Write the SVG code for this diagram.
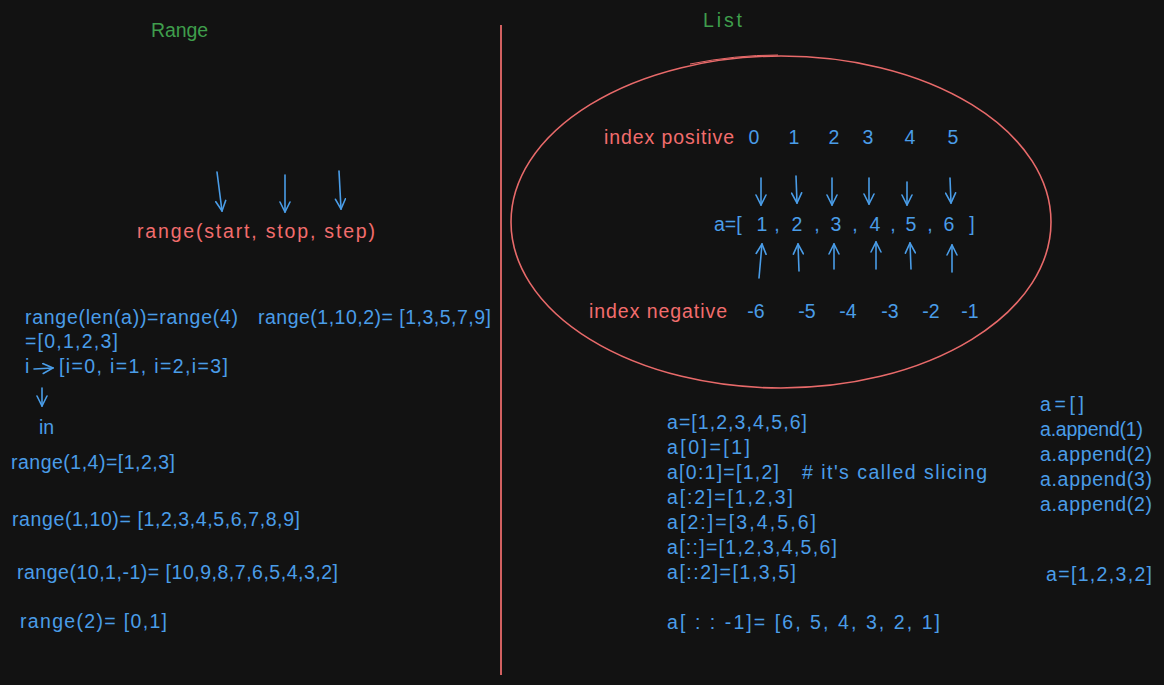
<svg xmlns="http://www.w3.org/2000/svg" width="1164" height="685" viewBox="0 0 1164 685">
<style>
text{font-family:"Liberation Sans","DejaVu Sans",sans-serif;font-size:19.5px;}
.b{fill:#4a9de8;}
.r{fill:#f26d6d;}
.g{fill:#3f9e4c;}
.c{text-anchor:middle;}
.arr{stroke:#4a9de8;stroke-width:1.6;fill:none;stroke-linecap:round;stroke-linejoin:round;}
</style>
<defs>
<marker id="ah" viewBox="0 0 12 12" refX="11" refY="6" markerWidth="12" markerHeight="12" markerUnits="userSpaceOnUse" orient="auto">
<path d="M1,1 L11,6 L1,11" fill="none" stroke="#4a9de8" stroke-width="1.6" stroke-linecap="round"/>
</marker>
</defs>
<rect width="1164" height="685" fill="#121212"/>

<g id="divider"><line x1="501" y1="25" x2="501" y2="675" stroke="#e86a6a" stroke-width="1.8"/></g>

<g id="title-range"><text class="g" x="151" y="37" textLength="57">Range</text></g>
<g id="title-list"><text class="g" x="703" y="27" textLength="39">List</text></g>

<g id="range-signature"><text class="r" x="137" y="238" textLength="238">range(start, stop, step)</text></g>

<g id="range-examples">
<text class="b" x="25" y="324" textLength="213">range(len(a))=range(4)</text>
<text class="b" x="258" y="324" textLength="233">range(1,10,2)= [1,3,5,7,9]</text>
<text class="b" x="25" y="348" textLength="93">=[0,1,2,3]</text>
<text class="b" x="25" y="373">i</text>
<text class="b" x="59" y="373" textLength="169">[i=0, i=1, i=2,i=3]</text>
<text class="b" x="39" y="434">in</text>
<text class="b" x="11" y="469" textLength="164">range(1,4)=[1,2,3]</text>
<text class="b" x="12" y="526" textLength="288">range(1,10)= [1,2,3,4,5,6,7,8,9]</text>
<text class="b" x="17" y="579" textLength="321">range(10,1,-1)= [10,9,8,7,6,5,4,3,2]</text>
<text class="b" x="20" y="628" textLength="147">range(2)= [0,1]</text>
</g>

<g id="list-ellipse"><ellipse cx="781" cy="222" rx="270" ry="166" fill="none" stroke="#e86a6a" stroke-width="1.6"/>
<path d="M690,64 Q735,55 778,55" fill="none" stroke="#e86a6a" stroke-width="1"/></g>

<g id="index-positive">
<text class="r" x="604" y="144" textLength="130">index positive</text>
<text class="b c" x="754" y="144">0</text>
<text class="b c" x="794" y="144">1</text>
<text class="b c" x="834" y="144">2</text>
<text class="b c" x="868" y="144">3</text>
<text class="b c" x="910" y="144">4</text>
<text class="b c" x="953" y="144">5</text>
</g>

<g id="list-a">
<text class="b" x="714" y="231">a=[</text>
<text class="b c" x="762" y="231">1</text>
<text class="b c" x="777" y="231">,</text>
<text class="b c" x="797" y="231">2</text>
<text class="b c" x="817" y="231">,</text>
<text class="b c" x="836" y="231">3</text>
<text class="b c" x="855" y="231">,</text>
<text class="b c" x="875" y="231">4</text>
<text class="b c" x="893" y="231">,</text>
<text class="b c" x="911" y="231">5</text>
<text class="b c" x="930" y="231">,</text>
<text class="b c" x="949" y="231">6</text>
<text class="b c" x="972" y="231">]</text>
</g>

<g id="index-negative">
<text class="r" x="589" y="318" textLength="138">index negative</text>
<text class="b c" x="756" y="318">-6</text>
<text class="b c" x="807" y="318">-5</text>
<text class="b c" x="848" y="318">-4</text>
<text class="b c" x="890" y="318">-3</text>
<text class="b c" x="931" y="318">-2</text>
<text class="b c" x="970" y="318">-1</text>
</g>

<g id="slicing">
<text class="b" x="667" y="429" textLength="140">a=[1,2,3,4,5,6]</text>
<text class="b" x="667" y="454" textLength="83">a[0]=[1]</text>
<text class="b" x="667" y="479" textLength="112">a[0:1]=[1,2]</text>
<text class="b" x="802" y="479" textLength="185"># it's called slicing</text>
<text class="b" x="667" y="504" textLength="126">a[:2]=[1,2,3]</text>
<text class="b" x="667" y="529" textLength="149">a[2:]=[3,4,5,6]</text>
<text class="b" x="667" y="554" textLength="170">a[::]=[1,2,3,4,5,6]</text>
<text class="b" x="667" y="579" textLength="129">a[::2]=[1,3,5]</text>
<text class="b" x="667" y="629" textLength="273">a[ : : -1]= [6, 5, 4, 3, 2, 1]</text>
</g>

<g id="append">
<text class="b" x="1040" y="411" textLength="44">a=[]</text>
<text class="b" x="1040" y="436" textLength="103">a.append(1)</text>
<text class="b" x="1040" y="461" textLength="112">a.append(2)</text>
<text class="b" x="1040" y="486" textLength="112">a.append(3)</text>
<text class="b" x="1040" y="511" textLength="112">a.append(2)</text>
<text class="b" x="1046" y="581" textLength="106">a=[1,2,3,2]</text>
</g>

<g id="connectors">
<line class="arr" x1="217" y1="172" x2="222" y2="211" marker-end="url(#ah)"/>
<line class="arr" x1="285" y1="175" x2="285" y2="212" marker-end="url(#ah)"/>
<line class="arr" x1="339" y1="171" x2="341" y2="209" marker-end="url(#ah)"/>
<line class="arr" x1="34" y1="369" x2="53" y2="368" marker-end="url(#ah)"/>
<line class="arr" x1="42" y1="388" x2="42" y2="406" marker-end="url(#ah)"/>
<line class="arr" x1="761" y1="178" x2="761" y2="205" marker-end="url(#ah)"/>
<line class="arr" x1="796" y1="176" x2="797" y2="203" marker-end="url(#ah)"/>
<line class="arr" x1="832" y1="178" x2="832" y2="205" marker-end="url(#ah)"/>
<line class="arr" x1="869" y1="178" x2="869" y2="204" marker-end="url(#ah)"/>
<line class="arr" x1="907" y1="182" x2="907" y2="205" marker-end="url(#ah)"/>
<line class="arr" x1="950" y1="178" x2="951" y2="203" marker-end="url(#ah)"/>
<line class="arr" x1="759" y1="278" x2="762" y2="244" marker-end="url(#ah)"/>
<line class="arr" x1="799" y1="271" x2="798" y2="244" marker-end="url(#ah)"/>
<line class="arr" x1="834" y1="269" x2="834" y2="244" marker-end="url(#ah)"/>
<line class="arr" x1="876" y1="269" x2="876" y2="242" marker-end="url(#ah)"/>
<line class="arr" x1="911" y1="269" x2="910" y2="243" marker-end="url(#ah)"/>
<line class="arr" x1="952" y1="272" x2="952" y2="245" marker-end="url(#ah)"/>
</g>
</svg>
